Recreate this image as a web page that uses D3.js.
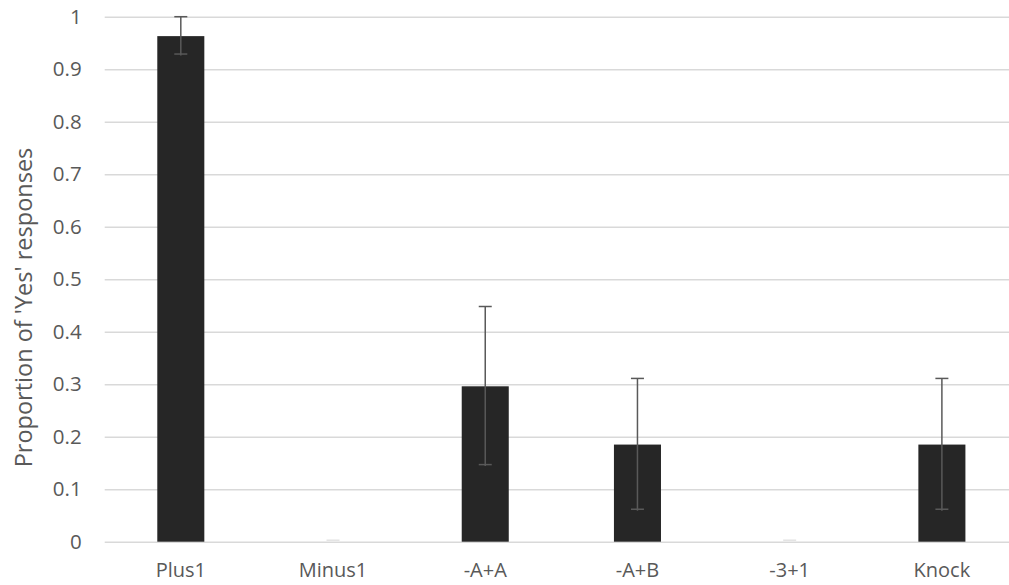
<!DOCTYPE html>
<html>
<head>
<meta charset="utf-8">
<script src="https://cdn.jsdelivr.net/npm/d3@7"></script>
<style>
  html, body { margin: 0; padding: 0; background: #fff; }
  svg text { font-family: "Open Sans", sans-serif; fill: #595959; }
</style>
</head>
<body>
<svg id="chart" width="1009" height="585"></svg>
<script>
const categories = ["Plus1", "Minus1", "-A+A", "-A+B", "-3+1", "Knock"];
const values = [0.963, 0, 0.296, 0.185, 0, 0.185];
const errors = [0.037, 0, 0.152, 0.126, 0, 0.126];
const yTicks = [0, 0.1, 0.2, 0.3, 0.4, 0.5, 0.6, 0.7, 0.8, 0.9, 1];
const yTitle = "Proportion of 'Yes' responses";

(function () {
const svg = d3.select("#chart");
const pLeft = 104.7, pRight = 1018, pTop = 16.7, pBottom = 541.7;

const x = d3.scaleBand().domain(categories).range([pLeft, pRight])
  .paddingInner(0.691).paddingOuter(0.3455);
const y = d3.scaleLinear().domain([0, 1]).range([pBottom, pTop]);

// gridlines + y tick labels
const yAxis = d3.axisLeft(y).tickValues(yTicks).tickFormat(d => d3.format("")(d))
  .tickSize(-(pRight - pLeft)).tickPadding(23);
const gy = svg.append("g").attr("transform", `translate(${pLeft},0)`).call(yAxis);
gy.select(".domain").remove();
gy.selectAll(".tick line").attr("stroke", "#d9d9d9").attr("stroke-width", 1.5);
gy.selectAll(".tick text").attr("font-size", 20.5).attr("fill", "#595959")
  .style("font-family", "'Open Sans', sans-serif");

// bars
svg.append("g").selectAll("rect").data(categories).join("rect")
  .attr("x", d => x(d))
  .attr("width", x.bandwidth())
  .attr("y", (d, i) => y(values[i]))
  .attr("height", (d, i) => y(0) - y(values[i]))
  .attr("fill", "#262626");

// error bars
const capW = 13;
const eb = svg.append("g").attr("stroke", "#595959").attr("stroke-width", 1.5);
categories.forEach((c, i) => {
  const cx = x(c) + x.bandwidth() / 2;
  const lo = y(values[i] - errors[i]), hi = y(values[i] + errors[i]);
  const col = errors[i] > 0 ? "#595959" : "#e3e3e3";
  if (errors[i] > 0) {
    eb.append("line").attr("x1", cx).attr("x2", cx).attr("y1", lo).attr("y2", hi);
  }
  eb.append("line").attr("x1", cx - capW / 2).attr("x2", cx + capW / 2).attr("y1", lo - 1.5).attr("y2", lo - 1.5).attr("stroke", col);
  if (errors[i] > 0) {
    eb.append("line").attr("x1", cx - capW / 2).attr("x2", cx + capW / 2).attr("y1", hi).attr("y2", hi).attr("stroke", col);
  }
});

// x axis labels
const xAxis = d3.axisBottom(x).tickSize(0).tickPadding(21);
const gx = svg.append("g").attr("transform", `translate(0,${pBottom})`).call(xAxis);
gx.select(".domain").remove();
gx.selectAll(".tick text").attr("font-size", 20).attr("fill", "#595959")
  .style("font-family", "'Open Sans', sans-serif");

// y title
svg.append("text")
  .attr("transform", `translate(23,307.5) rotate(-90)`)
  .attr("text-anchor", "middle")
  .attr("dominant-baseline", "central")
  .attr("font-size", 23.5)
  .text(yTitle);
})();
</script>
</body>
</html>
